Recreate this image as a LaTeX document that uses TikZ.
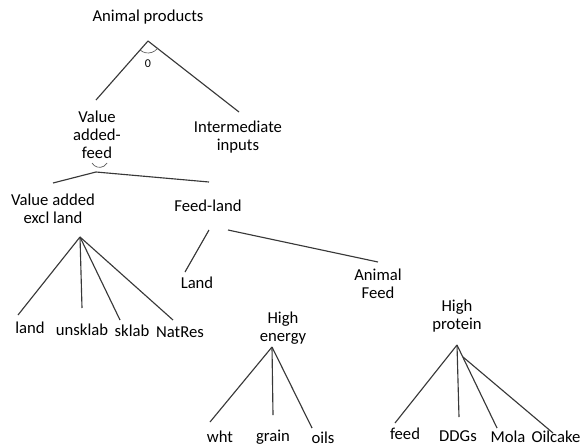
\documentclass[tikz,border=0pt]{standalone}
\usepackage{fontspec}
\setmainfont{Carlito}
\usepackage{tikz}

\begin{document}
\begin{tikzpicture}[x=0.75pt,y=-0.75pt,lbl/.style={align=center,inner sep=0pt,font=\fontsize{12.5}{13.5}\selectfont},br/.style={line width=0.85pt,black!78},nest/.style={line width=0.5pt,black!65}]
  \useasboundingbox (0,0) rectangle (581,446);

  \node[lbl] (ap) at (148,17) {Animal products};
  \node[lbl,font=\fontsize{9}{10}\selectfont] (zero) at (148,64) {0};
  \node[lbl] (vaf) at (97,135) {Value\\added-\\feed};
  \node[lbl] (int) at (238,137) {Intermediate\\inputs};
  \node[lbl] (vaex) at (53,209) {Value added\\excl land};
  \node[lbl] (fl) at (208,206) {Feed-land};
  \node[lbl] (lnd) at (197,283) {Land};
  \node[lbl] (af) at (378,284) {Animal\\Feed};
  \node[lbl] (he) at (283,328) {High\\energy};
  \node[lbl] (hp) at (457,316) {High\\protein};

  \node[lbl] (land) at (30,328) {land};
  \node[lbl] (unsk) at (82,330) {unsklab};
  \node[lbl] (sk) at (132,331) {sklab};
  \node[lbl] (nat) at (180,332) {NatRes};

  \node[lbl] (wht) at (220,437) {wht};
  \node[lbl] (grain) at (273,437) {grain};
  \node[lbl] (oils) at (323,438) {oils};

  \node[lbl] (feed) at (405,434) {feed};
  \node[lbl] (ddgs) at (458,436) {DDGs};
  \node[lbl] (mola) at (508,437) {Mola};
  \node[lbl] (oilc) at (556,437) {Oilcake};

  \coordinate (rt) at (148,41);
  \coordinate (vf) at (96,172);
  \coordinate (vx) at (80,237);
  \coordinate (hef) at (272,347);
  \coordinate (hpf) at (457,345);

  \draw[br] (rt) -- ([shift={(-1,-35)}]vaf.center);
  \draw[br] (rt) -- ([shift={(1,-25)}]int.center);
  \draw[nest] (rt) ++(131:12) arc[start angle=131,end angle=38,radius=12];

  \draw[br] (vf) -- ([shift={(0,-26)}]vaex.center);
  \draw[br] (vf) -- ([shift={(1,-24)}]fl.center);
  \draw[nest] ([shift={(-4,-9)}]vf) arc[start angle=150,end angle=30,radius=8.7];

  \draw[br] ([shift={(1,24)}]fl.center) -- ([shift={(-12,-11)}]lnd.center);
  \draw[br] ([shift={(20,24)}]fl.center) -- ([shift={(0,-22)}]af.center);

  \draw[br] (vx) -- ([shift={(-12,-13)}]land.center);
  \draw[br] (vx) -- ([shift={(0,-22)}]unsk.center);
  \draw[br] (vx) -- ([shift={(-12,-11)}]sk.center);
  \draw[br] (vx) -- ([shift={(-7,-12)}]nat.center);

  \draw[br] (hef) -- ([shift={(-10,-15)}]wht.center);
  \draw[br] (hef) -- ([shift={(0,-22)}]grain.center);
  \draw[br] (hef) -- ([shift={(-11,-10)}]oils.center);

  \draw[br] (hpf) -- ([shift={(-10,-11)}]feed.center);
  \draw[br] (hpf) -- ([shift={(1,-19)}]ddgs.center);
  \draw[br] (hpf) -- ([shift={(-11,-9)}]mola.center);
  \draw[br] ([shift={(6,12)}]hpf) -- ([shift={(-3,-4)}]oilc.center);
\end{tikzpicture}
\end{document}
